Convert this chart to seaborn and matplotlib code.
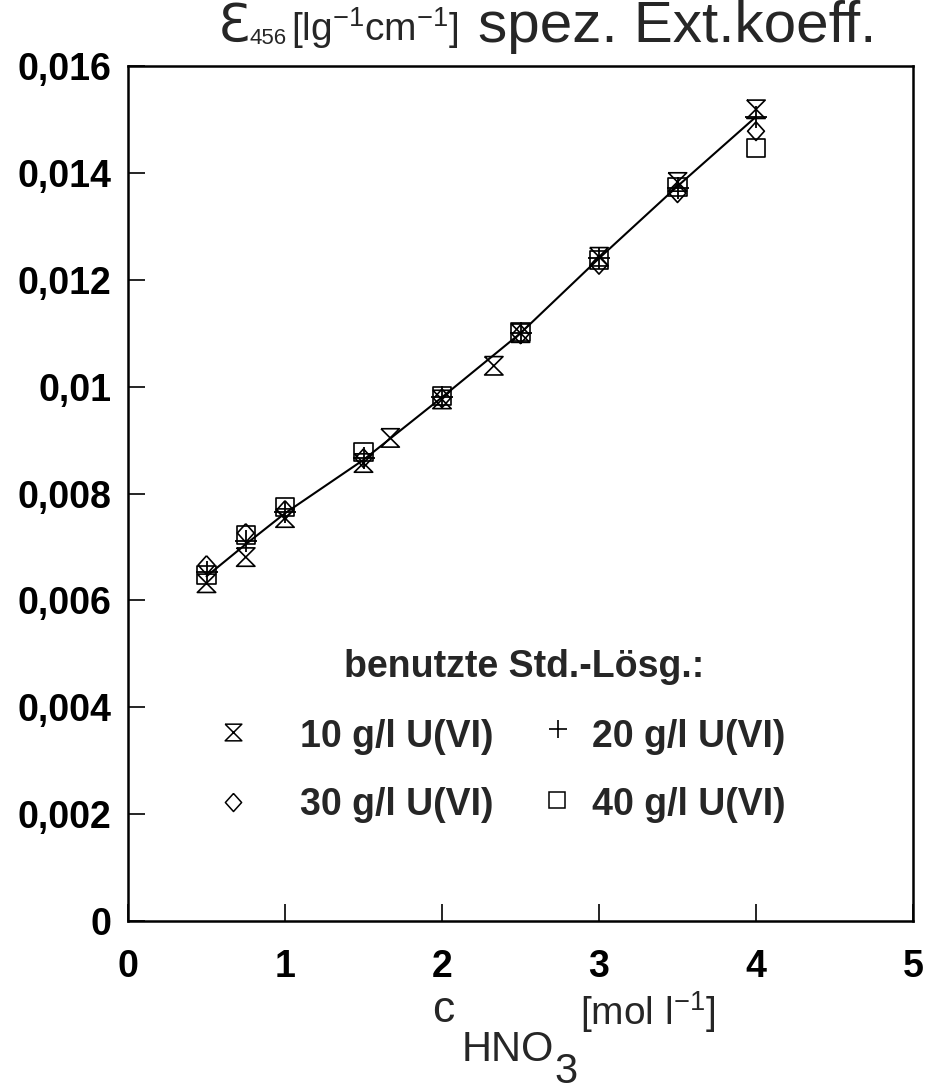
import numpy as np
import pandas as pd
import matplotlib
matplotlib.use('Agg')
import matplotlib.pyplot as plt
import seaborn as sns

# concentration HNO3 [mol/l]
x_main = [0.5, 0.75, 1.0, 1.5, 2.0, 2.5, 3.0, 3.5, 4.0]
x_10 = [0.5, 0.75, 1.0, 1.5, 1.67, 2.0, 2.33, 2.5, 3.0, 3.5, 4.0]

# spez. Extinktionskoeffizient je Std.-Loesung
eps_10 = [0.00632, 0.00681, 0.00754, 0.00857, 0.00904, 0.00976, 0.01039, 0.01100, 0.01243, 0.01383, 0.01519]
eps_20 = [0.00653, 0.00711, 0.00765, 0.00866, 0.00980, 0.01100, 0.01240, 0.01371, 0.01504]
eps_30 = [0.00666, 0.00726, 0.00769, 0.00866, 0.00978, 0.01098, 0.01228, 0.01362, 0.01478]
eps_40 = [0.00647, 0.00722, 0.00775, 0.00878, 0.00982, 0.01102, 0.01237, 0.01373, 0.01447]

# Ausgleichslinie
line_x = [0.5, 0.75, 1.0, 1.5, 2.0, 2.5, 3.0, 3.5, 4.0]
line_y = [0.00645, 0.00705, 0.00763, 0.00863, 0.00980, 0.01100, 0.01240, 0.01375, 0.01505]

y_ticks = [0, 0.002, 0.004, 0.006, 0.008, 0.01, 0.012, 0.014, 0.016]
y_ticklabels = ['0', '0,002', '0,004', '0,006', '0,008', '0,01', '0,012', '0,014', '0,016']
x_ticks = [0, 1, 2, 3, 4, 5]

legend_labels = ['10 g/l U(VI)', '20 g/l U(VI)', '30 g/l U(VI)', '40 g/l U(VI)']

sns.set_style('ticks')
plt.rcParams['font.family'] = ['Liberation Sans', 'DejaVu Sans']
plt.rcParams['mathtext.fontset'] = 'custom'
plt.rcParams['mathtext.rm'] = 'Liberation Sans'
plt.rcParams['mathtext.it'] = 'Liberation Sans'
plt.rcParams['mathtext.bf'] = 'Liberation Sans:bold'

hourglass = [(-1, 1), (1, 1), (-1, -1), (1, -1), (-1, 1)]
diamond = [(0, 1), (0.9, 0), (0, -1), (-0.9, 0), (0, 1)]

fig = plt.figure(figsize=(9.27, 10.92), dpi=100)
ax = fig.add_axes([128 / 927, 1 - 921 / 1092, 785 / 927, 855 / 1092])

sns.lineplot(x=line_x, y=line_y, color='black', linewidth=1.5, ax=ax, zorder=2)

sns.scatterplot(x=x_10, y=eps_10, marker=hourglass, s=175, facecolor='none',
                edgecolor='black', linewidth=1.2, ax=ax, zorder=3)
sns.scatterplot(x=x_main, y=eps_20, marker='+', s=270, color='black',
                linewidth=1.3, ax=ax, zorder=3)
sns.scatterplot(x=x_main, y=eps_30, marker=diamond, s=180, facecolor='none',
                edgecolor='black', linewidth=1.2, ax=ax, zorder=3)
sns.scatterplot(x=x_main, y=eps_40, marker='s', s=170, facecolor='none',
                edgecolor='black', linewidth=1.2, ax=ax, zorder=3)

ax.set_xlim(0, 5)
ax.set_ylim(0, 0.016)
ax.set_xticks(x_ticks)
ax.set_xticklabels([str(t) for t in x_ticks])
ax.set_yticks(y_ticks)
ax.set_yticklabels(y_ticklabels)
ax.tick_params(axis='both', direction='in', length=12, width=1.2,
               labelsize=27, colors='black')
ax.tick_params(axis='y', pad=12)
ax.tick_params(axis='x', pad=20)
for lab in ax.get_xticklabels() + ax.get_yticklabels():
    lab.set_fontweight('bold')
for sp in ax.spines.values():
    sp.set_linewidth(1.8)
    sp.set_color('black')
ax.set_xlabel('')
ax.set_ylabel('')

# legend inside the axes
ax.text(0.504, 0.297, 'benutzte Std.-Lösg.:', transform=ax.transAxes,
        ha='center', va='center', fontsize=27, fontweight='bold')
ax.plot([0.134], [0.221], marker=hourglass, ms=12, mfc='none', mec='black',
        mew=1.1, transform=ax.transAxes, ls='')
ax.plot([0.548], [0.224], marker='+', ms=13, mec='black', mew=1.2,
        transform=ax.transAxes, ls='')
ax.plot([0.134], [0.139], marker=diamond, ms=13, mfc='none', mec='black',
        mew=1.1, transform=ax.transAxes, ls='')
ax.plot([0.546], [0.141], marker='s', ms=12, mfc='none', mec='black',
        mew=1.1, transform=ax.transAxes, ls='')
for (tx, ty), lab in zip([(0.219, 0.215), (0.591, 0.215), (0.219, 0.136), (0.591, 0.136)],
                         legend_labels):
    ax.text(tx, ty, lab, transform=ax.transAxes, ha='left', va='center',
            fontsize=27, fontweight='bold')

# title (pixel positions converted to figure fraction)
W, H = 927, 1092
fig.text(218 / W, 1 - 27 / H, 'Ɛ', fontsize=38, ha='left', va='center',
         family=['DejaVu Sans'])
fig.text(250 / W, 1 - 38 / H, '456', fontsize=16, ha='left', va='center')
fig.text(291 / W, 1 - 28 / H, r'[lg$^{-1}$cm$^{-1}$]', fontsize=28, ha='left', va='center')
fig.text(478 / W, 1 - 27 / H, 'spez. Ext.koeff.', fontsize=42, ha='left', va='center')

# x label
fig.text(432 / W, 1 - 1010 / H, 'c', fontsize=32, ha='left', va='center')
fig.text(462 / W, 1 - 1050 / H, 'HNO', fontsize=30, ha='left', va='center')
fig.text(554 / W, 1 - 1072 / H, '3', fontsize=30, ha='left', va='center')
fig.text(580 / W, 1 - 1012 / H, r'[mol l$^{-1}$]', fontsize=28, ha='left', va='center')

fig.savefig('out.png', dpi=100)
